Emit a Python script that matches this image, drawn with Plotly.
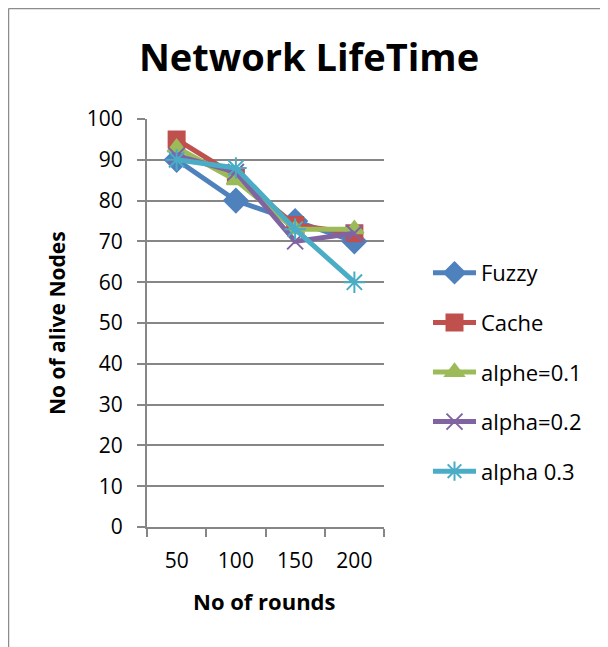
import plotly.graph_objects as go

# Data
rounds = ["50", "100", "150", "200"]
fuzzy = [90, 80, 75, 70]
cache = [95, 86, 74, 72]
alphe_01 = [93, 85, 73, 73]
alpha_02 = [91, 87, 70, 72]
alpha_03 = [90, 88, 73, 60]

series_names = ["Fuzzy", "Cache", "alphe=0.1", "alpha=0.2", "alpha 0.3"]
series_values = [fuzzy, cache, alphe_01, alpha_02, alpha_03]

colors = ["#4F81BD", "#C0504D", "#9BBB59", "#8064A2", "#4BACC6"]
symbols = ["diamond", "square", "triangle-up", "x-thin-open", "asterisk-open"]
sizes = [18, 16, 16, 16, 18]

FONT = "'Open Sans', sans-serif"
# page has an 8px body margin, so the figure is a bit smaller than the window
W, H = 600, 639
L, R, T, B = 139, 376, 111, 519  # plot area in figure pixels


def px_x(p):
    return (p - L) / (R - L)


def px_y(p):
    return (B - p) / (B - T)


fig = go.Figure()

for i, (name, vals) in enumerate(zip(series_names, series_values)):
    fig.add_trace(go.Scatter(
        x=rounds,
        y=vals,
        mode='lines+markers',
        name=name,
        legendgroup=name,
        line=dict(color=colors[i], width=5),
        marker=dict(symbol=symbols[i], size=sizes[i], color=colors[i],
                    line=dict(color=colors[i], width=2)),
    ))

# outer chart frame (left and top edges visible)
fig.add_shape(type='line', xref='paper', yref='paper',
              x0=px_x(0.5), x1=px_x(W + 5), y0=px_y(0.5), y1=px_y(0.5),
              line=dict(color='#8c8c8c', width=1.5))
fig.add_shape(type='line', xref='paper', yref='paper',
              x0=px_x(0.5), x1=px_x(0.5), y0=px_y(0.5), y1=px_y(H + 5),
              line=dict(color='#8c8c8c', width=1.5))

# axis titles as annotations for exact placement
fig.add_annotation(text='<b>No of alive Nodes</b>', xref='paper', yref='paper',
                   x=px_x(49), y=px_y(315), textangle=-90, showarrow=False,
                   xanchor='center', yanchor='middle', font=dict(size=21))
fig.add_annotation(text='<b>No of rounds</b>', xref='paper', yref='paper',
                   x=px_x(256), y=px_y(593), showarrow=False,
                   xanchor='center', yanchor='middle', font=dict(size=22))

fig.update_layout(
    width=W,
    height=H,
    margin=dict(l=L, r=W - R, t=T, b=H - B),
    paper_bgcolor='white',
    plot_bgcolor='white',
    font=dict(family=FONT, size=20, color='black'),
    title=dict(text='<b>Network LifeTime</b>', x=301 / W, xanchor='center',
               y=1 - 50 / H, yanchor='middle', yref='container',
               font=dict(size=38, family=FONT, color='black')),
    showlegend=True,
    legend=dict(x=px_x(420), xanchor='left', y=px_y(244), yanchor='top',
                font=dict(size=22, family=FONT), tracegroupgap=18,
                itemwidth=43, bgcolor='rgba(0,0,0,0)'),
    xaxis=dict(
        type='category',
        range=[-0.5, 3.5],
        showgrid=False,
        showline=True,
        linecolor='#868686',
        linewidth=2,
        ticks='outside',
        tickson='boundaries',
        ticklen=8,
        tickwidth=2,
        tickcolor='#868686',
        tickfont=dict(size=21),
        ticklabelstandoff=14,
    ),
    yaxis=dict(
        range=[0, 100],
        dtick=10,
        showgrid=True,
        gridcolor='#868686',
        gridwidth=2,
        showline=True,
        linecolor='#868686',
        linewidth=2,
        ticks='outside',
        ticklen=8,
        tickwidth=2,
        tickcolor='#868686',
        tickfont=dict(size=21),
        ticklabelstandoff=10,
        zeroline=False,
    ),
)

fig.write_html("out.html")
